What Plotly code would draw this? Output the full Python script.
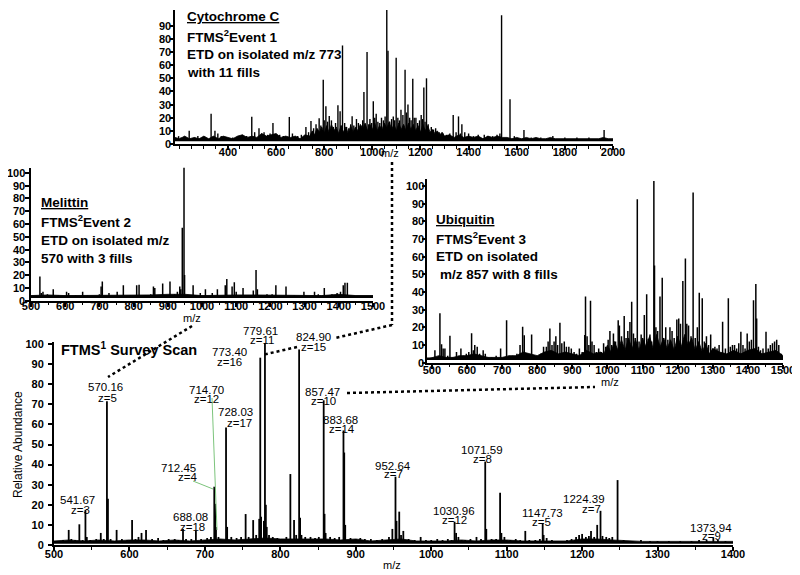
import plotly.graph_objects as go

# the page body adds an 8px margin, so the figure is made 8px smaller and
# reference pixel positions are shifted by OFF
OFF = 8
W, H = 800 - OFF, 575 - OFF
FONT = "Liberation Sans, Arial, Helvetica, sans-serif"

# ---------------- Survey scan (main) ----------------
main_mz = [512, 519.5, 523, 528, 533.6, 538, 541.67, 543.5, 548, 556, 562, 566, 570.16, 571.5, 575,
           583, 590, 597, 603.5, 608, 612, 616, 622, 630, 638, 645, 652, 660, 665, 671, 675, 682,
           688.08, 695, 703, 708, 712.45, 713.6, 714.70, 718, 728.03, 729.5, 735, 742, 748, 754,
           758, 764, 768, 772, 773.40, 774.5, 778.2, 779.61, 780.8, 782, 785, 790, 796, 802, 808,
           813.3, 818.2, 821, 824.90, 826.2, 828, 833, 840, 846, 851, 857.47, 858.6, 860, 866, 872,
           878, 883.68, 884.7, 886, 893, 900, 906, 912, 920, 928, 935, 944, 948.5, 952.64, 954,
           957.6, 960, 963, 970, 978, 986, 993, 1000, 1008, 1015, 1022, 1027, 1030.96, 1033, 1036,
           1045, 1052, 1060, 1066, 1071.59, 1073, 1080, 1086, 1091.3, 1093, 1097, 1105, 1112, 1118,
           1124.7, 1130, 1138, 1144, 1147.73, 1149, 1153, 1160, 1170, 1180, 1186, 1192, 1196, 1200,
           1205, 1209, 1211.8, 1216, 1220, 1224.39, 1227, 1232, 1236, 1240, 1247, 1255, 1265, 1278,
           1290, 1300, 1315, 1330, 1345, 1355, 1365, 1373.94, 1380, 1390]
main_int = [2.5, 7.5, 3, 2.5, 10.3, 2.5, 17.5, 4, 2.5, 3, 6, 3, 71.5, 23, 3,
            7.5, 3, 2.5, 12.5, 3, 4, 6, 7.5, 3, 3.5, 2.5, 3, 3, 2.5, 8, 3, 3,
            7, 3, 3.5, 4, 29, 20.5, 9, 4, 58.5, 9, 4, 3.5, 4, 15.4,
            4, 12.4, 5, 13, 93.2, 14, 12, 100.5, 20, 9, 5, 4, 3.5, 3, 4,
            35.3, 12.4, 5, 97.3, 13.5, 5, 4, 4, 3.5, 4, 72, 15.5, 6, 4, 3.5,
            4, 57, 46, 10, 3.5, 3, 3.5, 3, 3, 2.5, 3, 4, 8, 34, 12,
            16.6, 5, 7, 3, 2.5, 4, 2.5, 2.5, 3, 2.5, 3, 2.5, 11.6, 6, 4,
            2.5, 3, 4, 3, 41.5, 8, 3, 3, 26, 6, 4, 2.5, 3, 2.5,
            7, 2.5, 2.5, 3, 10.8, 5, 3.5, 2.5, 2, 2.5, 3, 4, 5, 5.5,
            4, 4.5, 7, 4, 10, 17, 4.5, 4, 3.5, 4, 32.3, 2.5, 2, 2.5,
            2, 2, 2, 2, 2, 2.5, 2.5, 3.5, 2.5, 2]
main_noise_x = [500, 520, 540, 560, 580, 600, 620, 640, 660, 680, 700, 720, 740, 760, 780, 800,
                820, 840, 860, 880, 900, 920, 940, 960, 980, 1000, 1020, 1040, 1060, 1080, 1100,
                1120, 1140, 1160, 1180, 1200, 1220, 1240, 1260, 1280, 1300, 1320, 1340, 1360, 1380, 1400]
main_noise_y = [2, 2.5, 2, 2.5, 2, 2.5, 2.5, 2, 2.5, 2, 2.5, 3, 2.5, 3, 3.5, 3,
                3, 3, 3, 2.5, 3, 2, 2.5, 3, 2, 2, 2, 2.5, 2, 2.5, 2.5,
                2, 2, 2, 2, 3, 3, 2.5, 2, 1.8, 1.8, 1.8, 1.8, 2, 1.8, 1.8]
# peak label texts (value, charge)
main_label_text = [("541.67", "z=3"), ("570.16", "z=5"), ("688.08", "z=18"), ("712.45", "z=4"),
                   ("714.70", "z=12"), ("728.03", "z=17"), ("773.40", "z=16"), ("779.61", "z=11"),
                   ("824.90", "z=15"), ("857.47", "z=10"), ("883.68", "z=14"), ("952.64", "z=7"),
                   ("1071.59", "z=8"), ("1030.96", "z=12"), ("1147.73", "z=5"), ("1224.39", "z=7"),
                   ("1373.94", "z=9")]
main_yticks = list(range(0, 101, 10))

# ---------------- Cytochrome C ----------------
cyt_mz = [195, 205, 239, 262, 275, 300, 330, 346, 358, 372, 390, 420, 445, 460, 478, 499, 511, 529,
          540, 550, 565, 575, 587, 600, 615, 630, 655, 668, 690, 705, 724, 735, 745, 756, 766, 772,
          779, 786, 796, 800, 807, 814, 821, 830, 838, 847, 857, 866, 870, 876, 885, 893, 902, 910,
          916, 923, 934, 942, 953, 960, 965, 971, 978, 985, 990, 997, 1004, 1010, 1016, 1023, 1031,
          1038, 1046, 1053, 1060, 1065, 1072, 1080, 1087, 1093, 1099, 1106, 1113, 1119, 1127, 1136,
          1142, 1148, 1155, 1161, 1168, 1174, 1181, 1188, 1196, 1203, 1209, 1214, 1219, 1225, 1232,
          1245, 1254, 1263, 1278, 1293, 1308, 1322, 1336, 1348, 1358, 1366, 1372, 1384, 1400, 1420,
          1440, 1465, 1480, 1500, 1518, 1530, 1537, 1572, 1590, 1630, 1660, 1700, 1750, 1800, 1850,
          1900, 1963]
cyt_int = [6, 5, 10, 5, 6, 5, 23, 10, 8, 6, 5, 5, 6, 7, 6, 20.7, 9, 12,
           8, 9, 7, 8, 16, 7, 7, 6, 20.6, 8, 6, 7, 13, 9, 17.6, 12, 15, 11,
           19.6, 14, 49, 18, 28.7, 17, 21.4, 18, 13, 16, 29.5, 25, 14, 75, 16, 13, 12, 15,
           21.2, 14, 19, 16, 14, 18, 39.6, 15, 70, 15, 19, 16, 32.5, 20, 23, 17, 16,
           20, 18, 21, 104, 71, 17, 19, 21, 18, 65.6, 20, 18, 26, 22, 56.5,
           24, 30, 20, 18, 49.7, 20, 20, 16, 18, 22, 19, 43, 17, 50, 15,
           13, 11, 12, 9, 8, 7, 8, 22, 9, 21, 8, 15, 9, 8, 6,
           7, 7, 6, 6, 7, 8, 98, 34, 6, 10.6, 5, 5, 6, 5, 5,
           5, 10.6]
cyt_noise_x = [180, 200, 220, 240, 260, 280, 300, 320, 340, 360, 380, 400, 420, 440, 460, 480, 500,
               520, 540, 560, 580, 600, 620, 640, 660, 680, 700, 720, 740,
               750, 760, 770, 780, 790, 800, 810, 820, 830, 840, 850, 860, 870, 880, 890, 900, 910,
               920, 930, 940, 950, 960, 970, 980, 990, 1000, 1010, 1020, 1030, 1040, 1050, 1060,
               1070, 1080, 1090, 1100, 1110, 1120, 1130, 1140, 1150, 1160, 1170, 1180, 1190, 1200,
               1210, 1220, 1230, 1240, 1250, 1260, 1270, 1280, 1290, 1300,
               1320, 1340, 1360, 1380, 1400, 1420, 1440, 1460, 1480, 1500, 1520, 1540, 1560, 1580,
               1600, 1620, 1640, 1660, 1680, 1700, 1720, 1740, 1760, 1780, 1800, 1820, 1840, 1860,
               1880, 1900, 1920, 1940, 1960, 1980, 2000]
cyt_noise_y = [5, 4, 6, 4, 5, 4, 6, 4, 6, 4, 6, 5, 4, 6, 7, 5, 6,
               5, 8, 6, 7, 8, 5, 6, 5, 6, 4, 7, 6,
               10, 7, 12, 9, 13, 8, 14, 9, 15, 10, 13, 8, 14, 9, 13, 8, 14,
               9, 13, 10, 15, 11, 16, 10, 15, 11, 16, 10, 14, 11, 16, 12,
               17, 11, 15, 10, 16, 11, 15, 10, 16, 11, 15, 10, 14, 9,
               15, 10, 14, 9, 11, 8, 10, 7, 9, 6,
               7, 5, 7, 5, 6, 5, 6, 4, 6, 5, 6, 5, 5, 4,
               5, 4, 5, 4, 5, 4, 4, 5, 4, 4, 4, 4, 4, 4,
               4, 4, 4, 4, 5, 4, 4]
cyt_yticks = list(range(0, 91, 10))

# ---------------- Melittin ----------------
mel_mz = [526, 530, 535, 548, 565, 580, 604, 610, 630, 651, 665, 700, 705, 708.5, 728, 752, 770,
          790, 809, 816, 830, 850, 858, 862, 885, 906.4, 920, 928, 935, 938, 942.4, 947.4, 949,
          974, 995, 1010, 1030, 1045, 1068, 1072.5, 1088, 1094.5, 1100, 1120, 1150, 1158, 1162,
          1190, 1205, 1216, 1245.6, 1270, 1298, 1329, 1340, 1357.6, 1380, 1395, 1405, 1413, 1418, 1425]
mel_int = [19, 6, 7, 5, 9, 4, 7, 6, 4, 7, 4, 5, 11, 15, 6, 7, 12,
           4, 12, 12.5, 4, 5, 11, 10, 13.5, 15, 5, 7, 11, 9, 57, 104, 20,
           12, 6, 9, 6, 9, 12, 17, 11, 14.5, 7, 10, 8, 24, 9,
           5, 5, 12, 11, 4, 7, 7, 5, 10, 5, 6, 7, 12, 14, 14]
mel_noise_x = [500, 550, 600, 650, 700, 750, 800, 850, 900, 950, 1000, 1050, 1100, 1150, 1200,
               1250, 1300, 1350, 1400, 1450, 1500]
mel_noise_y = [4, 4.5, 4, 4, 4.5, 4, 4.5, 4.5, 5, 5, 4, 4.5, 4.5, 4.5, 4.5, 4, 4, 4, 5, 4, 4]
mel_yticks = list(range(0, 101, 10))

# ---------------- Ubiquitin ----------------
ubi_mz = [508.5, 515, 522.8, 527.5, 532, 537, 545, 551.3, 560, 570, 576, 582.6, 590, 598, 605, 613,
          618, 622, 629, 636, 646, 652, 660, 670, 683, 695.7, 705, 712.7, 720, 730, 742, 751,
          758.4, 763, 770, 777, 784, 792, 800, 810, 818, 826, 831, 836, 842, 848, 853, 858, 864.6,
          870, 877, 883, 890, 897, 905, 912, 920, 928, 935.3, 937.5, 942, 947, 951.7, 956, 962,
          968, 975, 982, 989, 995, 1002, 1007, 1012, 1017, 1023, 1030.6, 1034, 1040, 1047.7, 1053,
          1058, 1064, 1069, 1074, 1079, 1085, 1090, 1096, 1100, 1105, 1111.7, 1116, 1121, 1126,
          1132.2, 1134, 1138, 1143, 1149.6, 1156, 1160, 1166, 1172, 1178, 1184, 1190, 1197.6,
          1203, 1208, 1214.7, 1222, 1226, 1231, 1238, 1244, 1250, 1256, 1261.5, 1270, 1276, 1282,
          1288, 1294, 1300, 1306, 1312, 1318, 1328, 1336, 1344.3, 1350, 1356, 1362, 1368, 1374,
          1380, 1386, 1392, 1398, 1404, 1410, 1416, 1422.6, 1425, 1430, 1436, 1443, 1451.6, 1458,
          1464, 1470, 1476, 1482, 1488, 1495]
ubi_int = [7, 3, 28, 10.5, 8, 8, 4, 15.3, 3, 6, 4, 8, 4, 5, 6, 16.6,
           7, 10, 9, 5, 7, 5, 3, 3, 4, 8, 3, 24, 4, 4, 5, 10,
           20.4, 15.5, 5, 4, 16, 4, 4, 5, 9, 9, 12, 19.4, 10, 12, 15, 10, 22.6,
           11, 12, 9, 9, 8, 6, 5, 8, 6, 15.7, 37.4, 15, 10, 35, 12, 10,
           6, 8, 6, 11, 9, 13, 18, 10, 16.5, 12, 24, 21, 15, 26.4, 14,
           18, 23, 34.5, 16.5, 14, 92.5, 12, 16, 14, 27, 38.7, 13.5, 16, 12,
           102.8, 55, 20, 18, 37.4, 48, 14, 20, 13, 20, 18, 14, 24.5,
           25, 22, 46.2, 59, 22, 21, 15, 96.3, 14, 20, 39.6, 36.4, 12, 15,
           10, 16, 8, 9, 8, 10, 23.2, 8, 36.4, 9, 10, 10, 8, 11,
           17.5, 10, 8, 16.5, 12, 13, 35.3, 44.5, 25, 9, 7, 8, 17.5, 8,
           10, 11, 12, 13, 10, 5]
ubi_noise_x = [486, 500, 520, 540, 560, 580, 600, 620, 640, 660, 680, 700, 720, 740, 760, 780, 800,
               820, 840, 860, 880, 900, 920, 940, 960, 980,
               990, 1000, 1010, 1020, 1030, 1040, 1050, 1060, 1070, 1080, 1090, 1100, 1110, 1120,
               1130, 1140, 1150, 1160, 1170, 1180, 1190, 1200, 1210, 1220, 1230, 1240, 1250, 1260,
               1270, 1280, 1290, 1300,
               1320, 1340, 1360, 1380, 1400, 1420, 1440, 1460, 1480, 1500]
ubi_noise_y = [2, 3, 4, 3, 3, 4, 4, 5, 4, 3, 3, 3, 4, 4, 6, 5, 4,
               6, 7, 5, 6, 5, 4, 7, 5, 6,
               5, 10, 6, 12, 7, 13, 7, 14, 8, 13, 7, 14, 9, 15, 8,
               16, 9, 14, 8, 13, 7, 15, 9, 16, 10, 14, 7, 12,
               6, 11, 5, 8,
               6, 5, 7, 5, 7, 8, 5, 6, 7, 4]
ubi_yticks = list(range(0, 101, 10))


def px(x, y):
    return (x - OFF) / W, 1 - (y - OFF) / H


def sticks(mz, inten, base):
    xs, ys = [], []
    for m, v in zip(mz, inten):
        xs += [m, m, None]
        ys += [base, v, None]
    return xs, ys


fig = go.Figure()


def add_spectrum(mz, inten, nx, ny, base, xa, ya, lw, base_w):
    fig.add_trace(go.Scatter(x=[nx[0], nx[-1]], y=[base, base], mode="lines",
                             line=dict(color="black", width=base_w), xaxis=xa, yaxis=ya,
                             hoverinfo="skip", showlegend=False))
    fig.add_trace(go.Scatter(x=nx, y=ny, mode="lines", line=dict(color="black", width=0.8),
                             fill="tonexty", fillcolor="black", xaxis=xa, yaxis=ya,
                             hoverinfo="skip", showlegend=False))
    xs, ys = sticks(mz, inten, base)
    fig.add_trace(go.Scatter(x=xs, y=ys, mode="lines", line=dict(color="black", width=lw),
                             xaxis=xa, yaxis=ya, hoverinfo="skip", showlegend=False))


add_spectrum(main_mz, main_int, main_noise_x, main_noise_y, 1, "x", "y", 1.8, 1.5)
add_spectrum(cyt_mz, cyt_int, cyt_noise_x, cyt_noise_y, 3, "x2", "y2", 1.4, 2.5)
add_spectrum(mel_mz, mel_int, mel_noise_x, mel_noise_y, 3, "x3", "y3", 1.5, 2.5)
add_spectrum(ubi_mz, ubi_int, ubi_noise_x, ubi_noise_y, 2.2, "x4", "y4", 1.5, 2.5)

TICKFONT = dict(family=FONT, size=11, color="black", weight="bold")


def ax(**kw):
    d = dict(showline=True, linecolor="black", linewidth=2, ticks="outside", ticklen=4,
             tickwidth=1.5, tickcolor="black", showgrid=False, zeroline=False, fixedrange=True,
             automargin=False, tickfont=TICKFONT)
    d.update(kw)
    return d


def xdom(l, r):
    return [(l - OFF) / W, (r - OFF) / W]


def ydom(b, t):
    return [1 - (b - OFF) / H, 1 - (t - OFF) / H]


minor = dict(dtick=50, ticklen=2.5, tickcolor="black", tickwidth=1, ticks="outside", showgrid=False)

fig.update_layout(
    width=W, height=H, margin=dict(l=0, r=0, t=0, b=0, autoexpand=False),
    paper_bgcolor="white", plot_bgcolor="rgba(0,0,0,0)", showlegend=False,
    font=dict(family=FONT, color="black"),
    xaxis=ax(domain=xdom(54, 733), range=[500, 1400], tick0=500, dtick=100, minor=minor,
             anchor="y", ticklabelstandoff=-6),
    yaxis=ax(domain=ydom(545, 342), range=[0, 101], tickvals=main_yticks, anchor="x",
             ticklabelstandoff=2),
    xaxis2=ax(domain=xdom(175, 613), range=[180, 2000], tickvals=list(range(400, 2001, 200)),
              minor=minor, anchor="y2", ticklabelstandoff=-7),
    yaxis2=ax(domain=ydom(144, 10), range=[0, 102], tickvals=cyt_yticks, anchor="x2",
              showticklabels=False, ticklen=3),
    xaxis3=ax(domain=xdom(31, 373), range=[500, 1500], tick0=500, dtick=100, minor=minor,
              anchor="y3", ticklabelstandoff=-10),
    yaxis3=ax(domain=ydom(300.7, 167.6), range=[0, 104], tickvals=mel_yticks,
              anchor="x3", showticklabels=False),
    xaxis4=ax(domain=xdom(427, 783), range=[486, 1500], tickvals=list(range(500, 1501, 100)),
              minor=minor, anchor="y4", ticklabelstandoff=-8),
    yaxis4=ax(domain=ydom(362.7, 178.9), range=[0, 104], tickvals=ubi_yticks,
              anchor="x4", showticklabels=False, ticklen=3),
)

ann = []


def txt(x, y, s, size=13.5, bold=True, xanchor="left", angle=0):
    X, Y = px(x, y)
    ann.append(dict(x=X, y=Y, xref="paper", yref="paper", text=s, showarrow=False,
                    xanchor=xanchor, yanchor="middle", textangle=angle, borderpad=0,
                    font=dict(family=FONT, size=size, color="black", weight="bold" if bold else "normal")))


def ytick_labels(right_px, yref, vals):
    X, _ = px(right_px, 0)
    for v in vals:
        ann.append(dict(x=X, y=v, xref="paper", yref=yref, text=str(v), showarrow=False,
                        xanchor="right", yanchor="middle", borderpad=0, font=TICKFONT))


ytick_labels(172, "y2", cyt_yticks)
ytick_labels(26, "y3", mel_yticks)
ytick_labels(425, "y4", ubi_yticks)

# inset descriptions
for i, s in enumerate(["<u>Cytochrome C</u>", "FTMS<sup>2</sup>Event 1", "ETD on isolated m/z 773", "with 11 fills"]):
    txt(186, [17, 36, 54, 72][i], s)
for i, s in enumerate(["<u>Melittin</u>", "FTMS<sup>2</sup>Event 2", "ETD on isolated m/z", "570 with 3 fills"]):
    txt(40, [202, 221, 240, 258][i], s)
for i, s in enumerate(["<u>Ubiquitin</u>", "FTMS<sup>2</sup>Event 3", "ETD on isolated", "m/z 857 with 8 fills"]):
    txt([435, 435, 435, 439][i], [219, 238, 256, 274][i], s)
txt(60, 349, "FTMS<sup>1</sup> Survey Scan", size=14.5)

# axis titles
txt(390, 153, "m/z", size=11, bold=False, xanchor="center")
txt(192, 318, "m/z", size=11, bold=False, xanchor="center")
txt(610, 382, "m/z", size=11, bold=False, xanchor="center")
txt(392, 565, "m/z", size=11, bold=False, xanchor="center")
txt(18, 445, "Relative Abundance", size=12, bold=False, xanchor="center", angle=-90)

# peak label placements (pixel centres of the two text lines)
label_pos = [((77, 500), (80, 510)), ((105, 387), (107, 398)), ((190, 517), (192, 527)),
             ((178, 468), (187, 477)), ((206, 390), (206, 399)), ((235, 412), (239, 423)),
             ((230, 352), (230, 362)), ((260, 331), (262, 340)), ((313, 337), (313, 347)),
             ((322, 392), (323, 401)), ((340, 420), (342, 429)), ((393, 466), (393, 474)),
             ((482, 450), (483, 459)), ((454, 511), (454, 520)), ((542, 513), (541, 522)),
             ((584, 499), (591, 509)), ((711, 528), (711, 536))]
for (t1, t2), (p1, p2) in zip(main_label_text, label_pos):
    txt(p1[0], p1[1], t1, size=11.5, bold=False, xanchor="center")
    txt(p2[0], p2[1], t2, size=11.5, bold=False, xanchor="center")

fig.update_layout(annotations=ann)

shapes = []


def seg(a, b, color="black", width=2.5, dash="dot"):
    x0, y0 = px(*a)
    x1, y1 = px(*b)
    shapes.append(dict(type="line", xref="paper", yref="paper", x0=x0, y0=y0, x1=x1, y1=y1,
                       line=dict(color=color, width=width, dash=dash)))


seg((192, 326), (108, 377))
seg((392, 162), (392, 325))
seg((392, 325), (335, 338))
seg((297, 347), (262, 355))
seg((347, 393), (595, 387))
seg((212, 398), (217, 530), color="#7cc47c", width=1, dash="solid")
seg((193, 481), (213, 489), color="#7cc47c", width=1, dash="solid")
fig.update_layout(shapes=shapes)

fig.write_html("out.html")
